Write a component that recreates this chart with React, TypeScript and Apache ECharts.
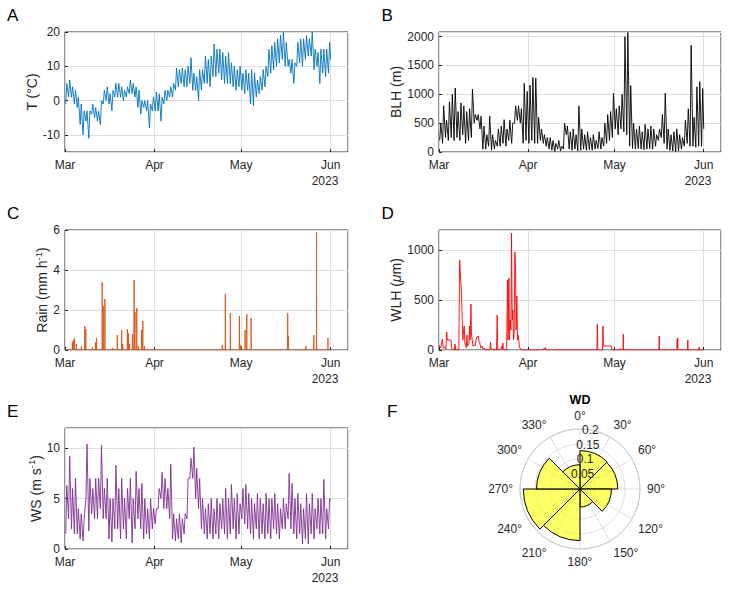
import React, { useEffect, useRef } from 'react';
import * as echarts from 'echarts';

const DAY = 24 * 3600 * 1000;
const T0 = new Date(2023, 2, 1).getTime(); // 1 Mar 2023
const X_MAX = T0 + 98 * DAY;
const SERIES_END = T0 + 92 * DAY;

const monthTickLabels = ['Mar', 'Apr', 'May', 'Jun'];
const yearLabel = '2023';
const panelLetters = ['A', 'B', 'C', 'D', 'E', 'F'];

// daily [low, high] from 1 Mar to 31 May
const tempDaily = [
  [-1, 5], [1, 6], [1, 4], [-1, 3], [-2, 1], [-7, -1], [-10, -3], [-6, -3], [-11, -3], [-4, -1],
  [-5, -2], [-6, -3], [-7, 0], [-1, 3], [0, 4], [-1, 2], [-3, 3], [1, 5], [1, 5], [1, 4],
  [0, 3], [1, 4], [2, 6], [2, 5], [1, 4], [-2, 3], [-4, 0], [-2, 0], [-3, 0], [-8, -1], [-3, 1],
  [-3, 2.5], [-3, 2], [-6, 1], [-1, 3], [0, 3], [1, 4], [1, 5], [3, 9.5], [4, 9], [5, 9.5],
  [4, 9], [4, 10], [5, 12.5], [3, 8], [3, 7], [0, 9], [3, 9], [5, 13], [5, 12], [4, 13],
  [7, 16.5], [7, 15], [8, 15], [6, 14], [5, 13], [5, 14], [5, 11], [4, 10], [3, 9], [4, 10],
  [3, 8], [2, 9], [3, 8], [-1, 9], [-1.5, 8], [1, 6], [2, 7], [3, 9], [4, 10], [7, 15],
  [8, 16], [9, 17], [10, 18], [11, 19], [12, 20], [10, 17], [10, 12], [8, 12], [5, 11], [10, 17],
  [11, 18], [10, 18], [12, 19], [13, 18], [13, 20], [9, 15], [10, 14], [5, 15], [8, 15], [7, 15], [8, 17],
];
const tempLast = 12;

const blhDaily = [
  [200, 500], [150, 800], [250, 550], [200, 870], [250, 1000], [200, 1110], [250, 700], [200, 850], [300, 800], [150, 700],
  [200, 750], [250, 1090], [500, 650], [550, 650], [400, 620], [50, 450], [50, 300], [100, 620], [30, 300], [50, 200],
  [100, 400], [100, 450], [150, 560], [100, 400], [200, 550], [150, 500], [500, 800], [550, 800], [500, 750], [150, 1190], [200, 1050],
  [150, 1160], [200, 1290], [150, 1280], [150, 600], [200, 400], [150, 300], [100, 250], [50, 250], [30, 200], [10, 150],
  [50, 200], [20, 100], [50, 500], [300, 450], [50, 350], [30, 400], [50, 300], [20, 800], [30, 400], [50, 300],
  [30, 350], [40, 250], [30, 300], [50, 200], [60, 350], [50, 250], [100, 500], [150, 650], [200, 700], [250, 1020],
  [400, 750], [300, 800], [400, 1000], [350, 2000], [300, 2070], [100, 1150], [60, 500], [50, 400], [60, 450], [50, 350],
  [40, 480], [50, 400], [60, 450], [50, 400], [100, 300], [200, 400], [250, 650], [150, 1020], [50, 400], [30, 300],
  [20, 350], [10, 400], [20, 300], [50, 250], [100, 550], [150, 750], [100, 1850], [100, 600], [80, 1130], [100, 1220], [100, 1100],
];
const blhLast = 400;

// [day offset from 1 Mar, mm/h]
const rainEvents = [
  [2.56, 0.4], [2.9, 0.5], [3.25, 0.6], [3.95, 0.3], [5.69, 0.2], [6.85, 1.2], [7.2, 1.05], [9.52, 0.15],
  [10.57, 0.4], [10.92, 0.6], [12.89, 3.4], [13.24, 2.2], [13.82, 2.55], [16.49, 0.1], [18.12, 0.75],
  [19.63, 1.0], [19.98, 0.3], [21.6, 1.05], [21.95, 0.85], [22.3, 0.3], [23.34, 0.8], [23.93, 3.5],
  [24.27, 1.9], [24.85, 2.1], [25.44, 0.2], [26.48, 1.0], [26.95, 1.45], [27.53, 0.2], [54.47, 0.25],
  [55.52, 2.8], [57.26, 1.85], [60.39, 1.7], [60.86, 0.25], [62.37, 1.0], [62.95, 1.8], [64.46, 1.6],
  [77.12, 1.85], [77.35, 0.7], [83.39, 0.2], [86.18, 0.75], [87.11, 5.9], [91.06, 0.6],
];

// [day offset from 1 Mar, um]
const wlhProfile = [
  [0, 50], [0.5, 20], [0.69, 30], [1.16, 110], [1.5, 20], [2.08, 30], [2.4, 10], [2.66, 180], [2.9, 100],
  [4.16, 100], [4.4, 20], [4.62, 0], [5.3, 0], [5.55, 60], [5.8, 0], [6.9, 0], [7.17, 900], [7.4, 780],
  [7.75, 600], [8.09, 300], [8.3, 100], [8.55, 200], [8.79, 240], [9.0, 60], [9.25, 50], [9.5, 20],
  [9.71, 150], [9.9, 40], [10.06, 50], [10.4, 60], [10.64, 240], [10.8, 100], [11.1, 460], [11.3, 150],
  [11.56, 100], [11.8, 40], [12.25, 50], [12.6, 40], [13.06, 130], [13.64, 140], [13.9, 80], [14.22, 70],
  [14.5, 20], [15.03, 40], [15.3, 10], [15.72, 20], [16.0, 0], [17.7, 0], [17.92, 80], [18.1, 10],
  [18.5, 10], [18.7, 0], [20.0, 0], [20.23, 350], [20.4, 0], [21.5, 0], [21.73, 40], [22.0, 10],
  [22.2, 70], [22.4, 0], [23.5, 0], [23.82, 700], [24.0, 100], [24.28, 720], [24.5, 100], [24.74, 300],
  [25.0, 200], [25.2, 1170], [25.45, 300], [25.66, 400], [25.9, 100], [26.13, 180], [26.36, 980],
  [26.59, 830], [26.82, 200], [27.05, 540], [27.3, 100], [27.51, 150], [27.98, 30], [28.44, 0],
  [36.3, 0], [36.53, 20], [36.75, 10], [36.99, 25], [37.2, 0], [54.9, 0], [55.03, 260], [55.2, 0],
  [56.85, 0], [56.99, 240], [57.15, 40], [60.0, 40], [60.12, 0], [62.8, 0], [62.89, 15], [63.0, 0],
  [63.95, 0], [64.05, 160], [64.15, 0], [76.45, 0], [76.53, 140], [76.65, 0], [82.7, 0], [82.77, 110],
  [82.85, 20], [82.95, 120], [83.05, 0], [86.4, 0], [86.47, 100], [86.55, 0], [90.33, 0], [90.4, 30],
  [90.5, 0], [92, 0],
];

const wsDaily = [
  [1.5, 6.3], [3, 9.2], [2, 6], [1.5, 7], [1.5, 4], [1, 3.5], [0.8, 3], [5, 10.4], [1.8, 7], [3.5, 6],
  [3, 7], [3, 7], [4, 10.3], [3, 6], [3, 7], [1, 5], [0.7, 5], [2, 8.3], [2, 6], [1, 7],
  [2, 5], [1, 6], [3, 7], [0.6, 5], [2, 7.7], [3, 6], [2, 6.5], [1, 5], [1.5, 4], [1, 5], [2, 4],
  [2.5, 4], [4, 6], [5, 7.6], [4, 7], [4, 6], [3, 8.4], [1, 3.5], [0.8, 3], [1, 3.5], [0.6, 3],
  [1.5, 3.5], [3, 7], [7, 9], [7, 10.1], [5, 8], [4, 7], [2, 5], [1.5, 4], [1, 4.5], [1.5, 5],
  [1, 4], [1.5, 5], [1, 4.5], [2, 5], [1.5, 6], [1, 5], [1.5, 6.4], [2, 5], [1, 5.5], [1.5, 4.5],
  [3, 6], [2.5, 6.4], [2, 5.5], [1.5, 5], [1, 4.5], [2, 5.5], [1, 5], [1.5, 4.5], [1, 5.5], [1.5, 5],
  [1, 5], [2, 5.5], [1.5, 4.5], [1, 4], [2, 5], [2, 4.5], [3, 7.5], [2, 6.5], [1.5, 5], [1, 5.5],
  [1.5, 4.5], [0.5, 4], [1, 5.5], [0.5, 4.5], [1.5, 5.5], [1, 4], [2, 5], [1.5, 5], [1.5, 6.9], [1, 4], [2, 5],
];
const wsLast = 4.8;

// wind direction: 45 degree bins, relative frequency
const windBins = ['0-45', '45-90', '90-135', '135-180', '180-225', '225-270', '270-315', '315-360'];
const windFreq = [0.128, 0.126, 0.105, 0.06, 0.172, 0.189, 0.145, 0.081];

const FONT = 'Liberation Sans, Arial, Helvetica, sans-serif';
const INK = '#262626';
const GRIDLINE = '#dedede';
const TICK_FONT = 12;

const dailyToPoints = (daily: number[][], last: number) => {
  const pts: number[][] = [];
  daily.forEach(([lo, hi], d) => {
    pts.push([T0 + (d + 0.25) * DAY, lo]);
    pts.push([T0 + (d + 0.625) * DAY, hi]);
  });
  pts.push([SERIES_END, last]);
  return pts;
};

const spikesToPoints = (events: number[][]) => {
  const pts: number[][] = [[T0, 0]];
  events.forEach(([d, v]) => {
    pts.push([T0 + (d - 0.05) * DAY, 0]);
    pts.push([T0 + d * DAY, v]);
    pts.push([T0 + (d + 0.05) * DAY, 0]);
  });
  pts.push([SERIES_END, 0]);
  return pts;
};

const profileToPoints = (profile: number[][]) => profile.map(([d, v]) => [T0 + d * DAY, v]);

const grids = [
  { left: 65, top: 32, width: 283, height: 120 },
  { left: 439, top: 32, width: 282, height: 120 },
  { left: 65, top: 230, width: 283, height: 120 },
  { left: 439, top: 230, width: 282, height: 120 },
  { left: 65, top: 428, width: 283, height: 121 },
];

const nameRich = {
  n: { fontSize: 14, fontFamily: FONT, color: INK, lineHeight: 18 },
  sup: { fontSize: 9.5, fontFamily: FONT, color: INK, verticalAlign: 'top' },
  it: { fontSize: 14, fontFamily: FONT, color: INK, fontStyle: 'italic', lineHeight: 18 },
};

const App: React.FC = () => {
  const chartRef = useRef<HTMLDivElement>(null);

  useEffect(() => {
    if (!chartRef.current) return;
    const chart = echarts.init(chartRef.current, null, { renderer: 'svg' });

    const xAxisFor = (gridIndex: number) => ({
      type: 'time',
      gridIndex,
      min: T0,
      max: X_MAX,
      minInterval: 28 * DAY,
      maxInterval: 31 * DAY,
      name: yearLabel,
      nameLocation: 'end',
      nameGap: -23,
      nameTextStyle: {
        fontSize: TICK_FONT,
        fontFamily: FONT,
        color: INK,
        align: 'center',
        verticalAlign: 'top',
        padding: [23, 0, 0, 0],
      },
      axisLine: { show: false, onZero: false },
      axisTick: { show: true, inside: true, length: 3, lineStyle: { color: INK } },
      axisLabel: {
        margin: 7,
        fontSize: TICK_FONT,
        fontFamily: FONT,
        color: INK,
        hideOverlap: false,
        formatter: (v: number) => {
          const d = new Date(v);
          if (d.getDate() !== 1) return '';
          return monthTickLabels[d.getMonth() - 2] ?? '';
        },
      },
      splitLine: { show: true, lineStyle: { color: GRIDLINE, width: 1 } },
    });

    const yAxisFor = (
      gridIndex: number,
      name: string,
      nameGap: number,
      range: { min: number; max: number; interval?: number },
      showMaxLabel: boolean,
      showMinLabel = true,
    ) => ({
      type: 'value',
      gridIndex,
      ...range,
      name,
      nameLocation: 'middle',
      nameGap,
      nameTextStyle: { fontSize: 14, fontFamily: FONT, color: INK, rich: nameRich },
      axisLine: { show: false, onZero: false },
      axisTick: { show: true, inside: true, length: 3, lineStyle: { color: INK } },
      axisLabel: {
        margin: 5,
        fontSize: TICK_FONT,
        fontFamily: FONT,
        color: INK,
        showMaxLabel,
        showMinLabel,
        formatter: (v: number) => String(v),
      },
      splitLine: { show: true, lineStyle: { color: GRIDLINE, width: 1 } },
    });

    const lineSeries = (i: number, color: string, data: number[][]) => ({
      type: 'line',
      xAxisIndex: i,
      yAxisIndex: i,
      data,
      showSymbol: false,
      symbol: 'none',
      clip: true,
      lineStyle: { color, width: 0.9 },
    });

    const letterPos = [
      [7, 15.5],
      [381.5, 15.5],
      [7, 213.7],
      [381.5, 213.4],
      [7, 411.7],
      [387, 411.5],
    ];

    const option: any = {
      animation: false,
      backgroundColor: '#ffffff',
      textStyle: { fontFamily: FONT },
      grid: grids.map((g) => ({
        ...g,
        show: true,
        borderColor: INK,
        borderWidth: 1,
        backgroundColor: 'transparent',
        containLabel: false,
        outerBoundsMode: 'none',
      })),
      xAxis: grids.map((_, i) => xAxisFor(i)),
      yAxis: [
        yAxisFor(0, 'T (°C)', 23, { min: -15, max: 20 }, true, false),
        yAxisFor(1, 'BLH (m)', 27, { min: 0, max: 2080, interval: 500 }, false),
        yAxisFor(2, '{n|Rain (mm h}{sup|-1}{n|)}', 13, { min: 0, max: 6, interval: 2 }, true),
        yAxisFor(3, '{n|WLH (}{it|μ}{n|m)}', 27, { min: 0, max: 1200, interval: 500 }, false),
        yAxisFor(4, '{n|WS (m s}{sup|-1}{n|)}', 20, { min: 0, max: 12, interval: 5 }, false),
      ],
      polar: [
        { center: [580, 489], radius: 60 },
        { center: [580, 489], radius: 60 },
        { center: [580, 489], radius: 60 },
      ],
      angleAxis: [
        {
          polarIndex: 0,
          type: 'value',
          min: 0,
          max: 360,
          interval: 30,
          startAngle: 90,
          clockwise: true,
          axisLine: { show: true, lineStyle: { color: '#c8c8c8', width: 1 } },
          axisTick: { show: false },
          axisLabel: {
            margin: 7,
            fontSize: TICK_FONT,
            fontFamily: FONT,
            color: INK,
            formatter: (v: number) => (v === 360 ? '' : `${v}°`),
          },
          splitLine: { show: true, lineStyle: { color: GRIDLINE, width: 1 } },
        },
        {
          polarIndex: 1,
          type: 'category',
          data: windBins,
          startAngle: 90,
          clockwise: true,
          boundaryGap: true,
          axisLine: { show: false },
          axisTick: { show: false },
          axisLabel: { show: false },
          splitLine: { show: false },
        },
        {
          polarIndex: 2,
          type: 'value',
          min: 0,
          max: 360,
          startAngle: 80,
          show: false,
        },
      ],
      radiusAxis: [
        {
          polarIndex: 0,
          min: 0,
          max: 0.2,
          interval: 0.05,
          axisLine: { show: false },
          axisTick: { show: false },
          axisLabel: { show: false },
          splitLine: { show: true, lineStyle: { color: GRIDLINE, width: 1 } },
        },
        { polarIndex: 1, min: 0, max: 0.2, show: false },
        {
          polarIndex: 2,
          min: 0,
          max: 0.2,
          interval: 0.05,
          z: 10,
          axisLine: { show: false },
          axisTick: { show: false },
          splitLine: { show: false },
          axisLabel: {
            margin: 0,
            align: 'center',
            verticalAlign: 'middle',
            fontSize: TICK_FONT,
            fontFamily: FONT,
            color: INK,
            formatter: (v: number) => (v === 0 ? '' : `${+v.toFixed(2)}`),
          },
        },
      ],
      series: [
        lineSeries(0, '#0072BD', dailyToPoints(tempDaily, tempLast)),
        lineSeries(1, '#000000', dailyToPoints(blhDaily, blhLast)),
        lineSeries(2, '#D95319', spikesToPoints(rainEvents)),
        lineSeries(3, '#FF0000', profileToPoints(wlhProfile)),
        lineSeries(4, '#7E2F8E', dailyToPoints(wsDaily, wsLast)),
        {
          type: 'bar',
          coordinateSystem: 'polar',
          polarIndex: 1,
          data: windFreq,
          barCategoryGap: '0%',
          barGap: '0%',
          itemStyle: { color: 'rgba(255,255,0,0.6)', borderColor: '#000000', borderWidth: 1 },
        },
      ],
      graphic: [
        ...panelLetters.map((letter, i) => ({
          type: 'text',
          x: letterPos[i][0],
          y: letterPos[i][1],
          style: {
            text: letter,
            fontSize: 17,
            fontFamily: FONT,
            fill: '#000000',
            align: 'left',
            verticalAlign: 'middle',
          },
        })),
        {
          type: 'text',
          x: 580,
          y: 399.5,
          style: {
            text: 'WD',
            fontSize: 12.5,
            fontWeight: 'bold',
            fontFamily: FONT,
            fill: '#000000',
            align: 'center',
            verticalAlign: 'middle',
          },
        },
      ],
    };

    chart.setOption(option);

    return () => {
      chart.dispose();
    };
  }, []);

  return (
    <div
      ref={chartRef}
      style={{ position: 'fixed', left: 0, top: 0, width: '729px', height: '591px' }}
    />
  );
};

export default App;
